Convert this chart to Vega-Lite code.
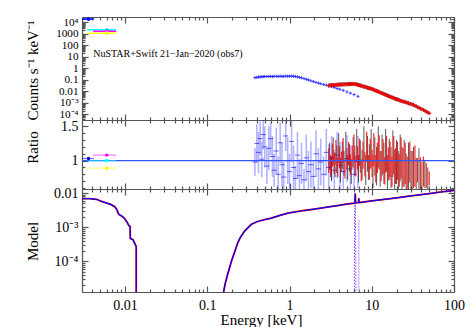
{
"$schema": "https://vega.github.io/schema/vega-lite/v6.json",
"background": "white",
"autosize": {"type": "pad"},
"padding": {"left": 24, "top": 16, "right": 0, "bottom": 0},
"config": {
  "font": "Liberation Serif",
  "view": {"stroke": null},
  "axis": {"labelFont": "Liberation Serif", "labelFontSize": 14, "labelColor": "black", "titleFont": "Liberation Serif", "titleFontSize": 15, "titleFontWeight": "normal", "titleColor": "black", "domainColor": "#555555", "tickColor": "#555555", "domainWidth": 1.2, "tickWidth": 1.2, "grid": false}
},
"datasets": {
  "ax": [{"E": 1, "c": 1, "r": 1, "m": 0.001}],
  "uv": [
    {"f": "b", "E": 0.0036, "Elo": 0.003, "Ehi": 0.0042, "c": 20000, "r": 1.03},
    {"f": "c", "E": 0.006, "Elo": 0.00347, "Ehi": 0.0078, "c": 2300, "r": 1.0},
    {"f": "m", "E": 0.006, "Elo": 0.0041, "Ehi": 0.0078, "c": 1700, "r": 1.08},
    {"f": "y", "E": 0.006, "Elo": 0.0035, "Ehi": 0.0078, "c": 1150, "r": 0.89}
  ],
  "xrt": [
    {"E": 0.38, "c": 0.150, "r": 0.98, "e": 0.20},
    {"E": 0.40, "c": 0.160, "r": 1.25, "e": 0.28},
    {"E": 0.42, "c": 0.170, "r": 1.12, "e": 0.30},
    {"E": 0.44, "c": 0.175, "r": 1.32, "e": 0.25},
    {"E": 0.46, "c": 0.180, "r": 1.02, "e": 0.26},
    {"E": 0.48, "c": 0.185, "r": 1.38, "e": 0.22},
    {"E": 0.50, "c": 0.188, "r": 1.20, "e": 0.30},
    {"E": 0.53, "c": 0.190, "r": 0.92, "e": 0.26},
    {"E": 0.56, "c": 0.192, "r": 1.18, "e": 0.32},
    {"E": 0.59, "c": 0.195, "r": 1.32, "e": 0.24},
    {"E": 0.62, "c": 0.190, "r": 1.06, "e": 0.30},
    {"E": 0.65, "c": 0.196, "r": 0.86, "e": 0.24},
    {"E": 0.69, "c": 0.198, "r": 1.14, "e": 0.34},
    {"E": 0.73, "c": 0.192, "r": 0.80, "e": 0.26},
    {"E": 0.77, "c": 0.200, "r": 1.26, "e": 0.30},
    {"E": 0.81, "c": 0.196, "r": 0.94, "e": 0.32},
    {"E": 0.85, "c": 0.194, "r": 0.76, "e": 0.22},
    {"E": 0.90, "c": 0.205, "r": 1.36, "e": 0.22},
    {"E": 0.95, "c": 0.200, "r": 1.00, "e": 0.34},
    {"E": 1.00, "c": 0.204, "r": 0.84, "e": 0.26},
    {"E": 1.06, "c": 0.206, "r": 1.28, "e": 0.30},
    {"E": 1.12, "c": 0.198, "r": 0.90, "e": 0.32},
    {"E": 1.18, "c": 0.190, "r": 0.74, "e": 0.18},
    {"E": 1.25, "c": 0.175, "r": 1.08, "e": 0.34},
    {"E": 1.32, "c": 0.160, "r": 0.78, "e": 0.24},
    {"E": 1.40, "c": 0.145, "r": 0.96, "e": 0.30},
    {"E": 1.50, "c": 0.125, "r": 0.72, "e": 0.16},
    {"E": 1.60, "c": 0.108, "r": 1.04, "e": 0.34},
    {"E": 1.70, "c": 0.095, "r": 0.84, "e": 0.30},
    {"E": 1.82, "c": 0.080, "r": 0.94, "e": 0.34},
    {"E": 1.95, "c": 0.068, "r": 0.77, "e": 0.22},
    {"E": 2.10, "c": 0.058, "r": 1.10, "e": 0.34},
    {"E": 2.25, "c": 0.050, "r": 0.88, "e": 0.30},
    {"E": 2.40, "c": 0.044, "r": 0.98, "e": 0.34},
    {"E": 2.60, "c": 0.038, "r": 0.80, "e": 0.26},
    {"E": 2.80, "c": 0.033, "r": 1.12, "e": 0.34},
    {"E": 3.00, "c": 0.029, "r": 0.90, "e": 0.34},
    {"E": 3.25, "c": 0.025, "r": 1.04, "e": 0.32},
    {"E": 3.50, "c": 0.021, "r": 0.86, "e": 0.30},
    {"E": 3.80, "c": 0.017, "r": 1.08, "e": 0.34},
    {"E": 4.10, "c": 0.0145, "r": 0.93, "e": 0.34},
    {"E": 4.50, "c": 0.0115, "r": 0.84, "e": 0.32},
    {"E": 5.00, "c": 0.0085, "r": 1.03, "e": 0.34},
    {"E": 5.50, "c": 0.0066, "r": 0.88, "e": 0.34},
    {"E": 6.10, "c": 0.0049, "r": 0.80, "e": 0.32},
    {"E": 6.80, "c": 0.0035, "r": 0.98, "e": 0.38}
  ],
  "fpma": [
    {"E": 3.00, "c": 0.031, "r": 1.00, "e": 0.18},
    {"E": 3.16, "c": 0.032, "r": 0.92, "e": 0.16},
    {"E": 3.32, "c": 0.033, "r": 1.08, "e": 0.17},
    {"E": 3.49, "c": 0.034, "r": 0.96, "e": 0.15},
    {"E": 3.67, "c": 0.035, "r": 1.12, "e": 0.18},
    {"E": 3.86, "c": 0.036, "r": 0.90, "e": 0.14},
    {"E": 4.06, "c": 0.037, "r": 1.05, "e": 0.16},
    {"E": 4.27, "c": 0.038, "r": 0.98, "e": 0.15},
    {"E": 4.49, "c": 0.038, "r": 1.15, "e": 0.18},
    {"E": 4.72, "c": 0.039, "r": 0.88, "e": 0.14},
    {"E": 4.97, "c": 0.040, "r": 1.02, "e": 0.16},
    {"E": 5.23, "c": 0.040, "r": 1.10, "e": 0.17},
    {"E": 5.50, "c": 0.041, "r": 0.94, "e": 0.15},
    {"E": 5.78, "c": 0.041, "r": 1.06, "e": 0.16},
    {"E": 6.08, "c": 0.041, "r": 1.18, "e": 0.20},
    {"E": 6.40, "c": 0.040, "r": 0.92, "e": 0.15},
    {"E": 6.73, "c": 0.036, "r": 1.04, "e": 0.17},
    {"E": 7.08, "c": 0.032, "r": 1.12, "e": 0.20},
    {"E": 7.45, "c": 0.029, "r": 0.86, "e": 0.16},
    {"E": 7.83, "c": 0.026, "r": 1.08, "e": 0.20},
    {"E": 8.24, "c": 0.024, "r": 0.95, "e": 0.18},
    {"E": 8.67, "c": 0.021, "r": 1.20, "e": 0.22},
    {"E": 9.12, "c": 0.019, "r": 0.90, "e": 0.18},
    {"E": 9.59, "c": 0.017, "r": 1.10, "e": 0.22},
    {"E": 10.1, "c": 0.0150, "r": 0.96, "e": 0.20},
    {"E": 10.6, "c": 0.0130, "r": 1.16, "e": 0.24},
    {"E": 11.2, "c": 0.0110, "r": 0.88, "e": 0.20},
    {"E": 11.7, "c": 0.0096, "r": 1.04, "e": 0.22},
    {"E": 12.3, "c": 0.0083, "r": 1.12, "e": 0.25},
    {"E": 13.0, "c": 0.0070, "r": 0.92, "e": 0.22},
    {"E": 13.7, "c": 0.0060, "r": 1.06, "e": 0.25},
    {"E": 14.4, "c": 0.0051, "r": 0.85, "e": 0.20},
    {"E": 15.1, "c": 0.0044, "r": 1.10, "e": 0.26},
    {"E": 15.9, "c": 0.0038, "r": 0.95, "e": 0.24},
    {"E": 16.7, "c": 0.0032, "r": 1.02, "e": 0.26},
    {"E": 17.6, "c": 0.0028, "r": 0.84, "e": 0.22},
    {"E": 18.5, "c": 0.0024, "r": 1.08, "e": 0.28},
    {"E": 19.5, "c": 0.0021, "r": 0.92, "e": 0.26},
    {"E": 20.5, "c": 0.0019, "r": 1.00, "e": 0.28},
    {"E": 21.6, "c": 0.0016, "r": 0.86, "e": 0.24},
    {"E": 22.7, "c": 0.0014, "r": 1.04, "e": 0.30},
    {"E": 24.0, "c": 0.00125, "r": 0.90, "e": 0.28},
    {"E": 25.5, "c": 0.00110, "r": 0.96, "e": 0.30},
    {"E": 27.0, "c": 0.00095, "r": 0.82, "e": 0.24},
    {"E": 29.0, "c": 0.00080, "r": 0.98, "e": 0.30},
    {"E": 31.0, "c": 0.00068, "r": 0.86, "e": 0.28},
    {"E": 33.5, "c": 0.00052, "r": 0.92, "e": 0.30},
    {"E": 36.0, "c": 0.00040, "r": 0.86, "e": 0.18},
    {"E": 39.0, "c": 0.00030, "r": 0.80, "e": 0.25},
    {"E": 42.5, "c": 0.00022, "r": 0.84, "e": 0.22},
    {"E": 46.0, "c": 0.00016, "r": 0.78, "e": 0.18},
    {"E": 50.0, "c": 0.000115, "r": 0.74, "e": 0.10}
  ],
  "fpmb": [
    {"E": 3.08, "c": 0.032, "r": 1.06, "e": 0.20},
    {"E": 3.24, "c": 0.033, "r": 0.88, "e": 0.18},
    {"E": 3.40, "c": 0.034, "r": 1.14, "e": 0.20},
    {"E": 3.58, "c": 0.035, "r": 0.94, "e": 0.18},
    {"E": 3.76, "c": 0.036, "r": 1.02, "e": 0.20},
    {"E": 3.96, "c": 0.037, "r": 1.18, "e": 0.22},
    {"E": 4.16, "c": 0.038, "r": 0.86, "e": 0.18},
    {"E": 4.38, "c": 0.039, "r": 1.08, "e": 0.20},
    {"E": 4.60, "c": 0.040, "r": 0.96, "e": 0.18},
    {"E": 4.84, "c": 0.040, "r": 1.20, "e": 0.22},
    {"E": 5.10, "c": 0.041, "r": 0.90, "e": 0.18},
    {"E": 5.36, "c": 0.042, "r": 1.04, "e": 0.20},
    {"E": 5.64, "c": 0.042, "r": 0.84, "e": 0.18},
    {"E": 5.93, "c": 0.042, "r": 1.12, "e": 0.22},
    {"E": 6.24, "c": 0.042, "r": 1.00, "e": 0.22},
    {"E": 6.56, "c": 0.039, "r": 1.22, "e": 0.24},
    {"E": 6.90, "c": 0.035, "r": 0.88, "e": 0.20},
    {"E": 7.26, "c": 0.031, "r": 1.06, "e": 0.24},
    {"E": 7.64, "c": 0.028, "r": 0.94, "e": 0.22},
    {"E": 8.03, "c": 0.025, "r": 1.24, "e": 0.26},
    {"E": 8.45, "c": 0.023, "r": 0.86, "e": 0.22},
    {"E": 8.89, "c": 0.020, "r": 1.10, "e": 0.26},
    {"E": 9.35, "c": 0.018, "r": 0.98, "e": 0.26},
    {"E": 9.84, "c": 0.016, "r": 1.18, "e": 0.28},
    {"E": 10.35, "c": 0.0142, "r": 0.84, "e": 0.24},
    {"E": 10.9, "c": 0.0122, "r": 1.06, "e": 0.28},
    {"E": 11.45, "c": 0.0105, "r": 0.92, "e": 0.28},
    {"E": 12.0, "c": 0.0091, "r": 1.20, "e": 0.30},
    {"E": 12.65, "c": 0.0078, "r": 0.88, "e": 0.26},
    {"E": 13.35, "c": 0.0066, "r": 1.08, "e": 0.30},
    {"E": 14.05, "c": 0.0057, "r": 0.96, "e": 0.30},
    {"E": 14.75, "c": 0.0049, "r": 1.14, "e": 0.32},
    {"E": 15.5, "c": 0.0042, "r": 0.82, "e": 0.26},
    {"E": 16.3, "c": 0.0036, "r": 1.02, "e": 0.30},
    {"E": 17.15, "c": 0.0031, "r": 0.90, "e": 0.30},
    {"E": 18.05, "c": 0.0027, "r": 1.10, "e": 0.34},
    {"E": 19.0, "c": 0.0023, "r": 0.86, "e": 0.30},
    {"E": 20.0, "c": 0.0020, "r": 0.98, "e": 0.32},
    {"E": 21.05, "c": 0.0018, "r": 0.84, "e": 0.30},
    {"E": 22.15, "c": 0.0015, "r": 1.04, "e": 0.34},
    {"E": 23.35, "c": 0.0013, "r": 0.88, "e": 0.32},
    {"E": 24.75, "c": 0.00118, "r": 0.96, "e": 0.34},
    {"E": 26.2, "c": 0.00102, "r": 0.80, "e": 0.30},
    {"E": 28.0, "c": 0.00088, "r": 0.92, "e": 0.34},
    {"E": 30.0, "c": 0.00075, "r": 0.84, "e": 0.30},
    {"E": 32.2, "c": 0.00062, "r": 0.90, "e": 0.30},
    {"E": 34.7, "c": 0.00048, "r": 0.78, "e": 0.26},
    {"E": 37.5, "c": 0.00036, "r": 0.88, "e": 0.30},
    {"E": 40.7, "c": 0.00027, "r": 0.76, "e": 0.22},
    {"E": 44.2, "c": 0.00020, "r": 0.80, "e": 0.20},
    {"E": 48.0, "c": 0.00014, "r": 0.74, "e": 0.16}
  ],
  "model": [
    {"part": "a", "E": 0.003, "m": 0.0069},
    {"part": "a", "E": 0.0037, "m": 0.0069},
    {"part": "a", "E": 0.0045, "m": 0.0066},
    {"part": "a", "E": 0.0051, "m": 0.0058},
    {"part": "a", "E": 0.006, "m": 0.0051},
    {"part": "a", "E": 0.0068, "m": 0.0046},
    {"part": "a", "E": 0.0075, "m": 0.0040},
    {"part": "a", "E": 0.0079, "m": 0.0034},
    {"part": "a", "E": 0.0084, "m": 0.0024},
    {"part": "a", "E": 0.0092, "m": 0.0021},
    {"part": "a", "E": 0.0099, "m": 0.0018},
    {"part": "a", "E": 0.0106, "m": 0.0014},
    {"part": "a", "E": 0.0112, "m": 0.0011},
    {"part": "a", "E": 0.01155, "m": 0.00105},
    {"part": "a", "E": 0.0116, "m": 0.00047},
    {"part": "a", "E": 0.0125, "m": 0.00043},
    {"part": "a", "E": 0.0137, "m": 0.00027},
    {"part": "a", "E": 0.01371, "m": 0.0000001},
    {"part": "b", "E": 0.15, "m": 0.000005},
    {"part": "b", "E": 0.158, "m": 0.0000127},
    {"part": "b", "E": 0.165, "m": 0.000022},
    {"part": "b", "E": 0.175, "m": 0.000038},
    {"part": "b", "E": 0.185, "m": 0.00006},
    {"part": "b", "E": 0.195, "m": 0.000095},
    {"part": "b", "E": 0.21, "m": 0.00016},
    {"part": "b", "E": 0.22, "m": 0.00022},
    {"part": "b", "E": 0.235, "m": 0.00035},
    {"part": "b", "E": 0.251, "m": 0.00049},
    {"part": "b", "E": 0.283, "m": 0.00076},
    {"part": "b", "E": 0.341, "m": 0.0012},
    {"part": "b", "E": 0.4, "m": 0.00145},
    {"part": "b", "E": 0.495, "m": 0.00166},
    {"part": "b", "E": 0.6, "m": 0.00185},
    {"part": "b", "E": 0.75, "m": 0.0022},
    {"part": "b", "E": 0.953, "m": 0.0026},
    {"part": "b", "E": 1.5, "m": 0.0031},
    {"part": "b", "E": 2.0, "m": 0.0034},
    {"part": "b", "E": 3.0, "m": 0.00395},
    {"part": "b", "E": 4.0, "m": 0.0044},
    {"part": "b", "E": 5.0, "m": 0.0048},
    {"part": "b", "E": 6.2, "m": 0.0051},
    {"part": "b", "E": 6.25, "m": 0.0052},
    {"part": "b", "E": 6.3, "m": 0.0098},
    {"part": "b", "E": 6.36, "m": 0.0052},
    {"part": "b", "E": 6.9, "m": 0.0053},
    {"part": "b", "E": 6.95, "m": 0.0070},
    {"part": "b", "E": 7.0, "m": 0.0053},
    {"part": "b", "E": 8.0, "m": 0.0055},
    {"part": "b", "E": 10, "m": 0.0059},
    {"part": "b", "E": 15, "m": 0.0067},
    {"part": "b", "E": 20, "m": 0.0073},
    {"part": "b", "E": 30, "m": 0.0083},
    {"part": "b", "E": 50, "m": 0.0097},
    {"part": "b", "E": 70, "m": 0.0108},
    {"part": "b", "E": 100, "m": 0.0120}
  ],
  "gau1": [
    {"E": 6.08, "m": 0.00000001},
    {"E": 6.15, "m": 0.0001},
    {"E": 6.2, "m": 0.002},
    {"E": 6.27, "m": 0.0047},
    {"E": 6.34, "m": 0.002},
    {"E": 6.4, "m": 0.0001},
    {"E": 6.47, "m": 0.00000001}
  ],
  "gau2": [
    {"E": 6.9, "m": 0.00000001},
    {"E": 6.94, "m": 0.0001},
    {"E": 6.97, "m": 0.0017},
    {"E": 7.0, "m": 0.0001},
    {"E": 7.04, "m": 0.00000001}
  ]
},
"vconcat": [
  {
    "width": 372, "height": 103,
    "resolve": {"axis": {"x": "independent", "y": "independent"}},
    "layer": [
      {"data": {"name": "ax"}, "mark": {"type": "point", "opacity": 0},
       "encoding": {
         "x": {"field": "E", "type": "quantitative", "scale": {"type": "log", "domain": [0.003, 100], "nice": false}, "axis": {"orient": "bottom", "values": [0.01, 0.1, 1, 10, 100], "labels": false, "tickSize": -6, "title": null}},
         "y": {"field": "c", "type": "quantitative", "scale": {"type": "log", "domain": [3e-5, 30000], "nice": false}, "axis": {"orient": "left", "values": [0.0001, 0.001, 0.01, 0.1, 1, 10, 100, 1000, 10000], "tickSize": -6, "labelPadding": 10, "labelFontSize": 11.2, "labelOverlap": false, "format": "~g", "labelExpr": "datum.value == 10000 ? '10⁴' : datum.value == 0.001 ? '10⁻³' : datum.value == 0.0001 ? '10⁻⁴' : datum.label", "title": "Counts s⁻¹ keV⁻¹", "titleX": -45, "titleY": 53, "titleBaseline": "alphabetic"}}
       }},
      {"data": {"name": "ax"}, "mark": {"type": "point", "opacity": 0},
       "encoding": {
         "x": {"field": "E", "type": "quantitative", "scale": {"type": "log", "domain": [0.003, 100], "nice": false}, "axis": {"orient": "bottom", "values": [0.004,0.005,0.006,0.007,0.008,0.009,0.02,0.03,0.04,0.05,0.06,0.07,0.08,0.09,0.2,0.3,0.4,0.5,0.6,0.7,0.8,0.9,2,3,4,5,6,7,8,9,20,30,40,50,60,70,80,90], "labels": false, "domain": false, "tickSize": -3, "title": null}},
         "y": {"field": "c", "type": "quantitative", "scale": {"type": "log", "domain": [3e-5, 30000], "nice": false}, "axis": {"orient": "left", "values": [4e-5,5e-5,6e-5,7e-5,8e-5,9e-5,2e-4,3e-4,4e-4,5e-4,6e-4,7e-4,8e-4,9e-4,0.002,0.003,0.004,0.005,0.006,0.007,0.008,0.009,0.02,0.03,0.04,0.05,0.06,0.07,0.08,0.09,0.2,0.3,0.4,0.5,0.6,0.7,0.8,0.9,2,3,4,5,6,7,8,9,20,30,40,50,60,70,80,90,200,300,400,500,600,700,800,900,2000,3000,4000,5000,6000,7000,8000,9000,20000], "labels": false, "domain": false, "tickSize": -3, "title": null}}
       }},
      {"data": {"name": "ax"}, "mark": {"type": "point", "opacity": 0},
       "encoding": {
         "x": {"field": "E", "type": "quantitative", "scale": {"type": "log", "domain": [0.003, 100], "nice": false}, "axis": {"orient": "top", "values": [0.01, 0.1, 1, 10, 100], "labels": false, "tickSize": -6, "title": null}},
         "y": {"field": "c", "type": "quantitative", "scale": {"type": "log", "domain": [3e-5, 30000], "nice": false}, "axis": {"orient": "right", "values": [0.0001, 0.001, 0.01, 0.1, 1, 10, 100, 1000, 10000], "labels": false, "tickSize": -6, "title": null}}
       }},
      {"data": {"name": "ax"}, "mark": {"type": "point", "opacity": 0},
       "encoding": {
         "x": {"field": "E", "type": "quantitative", "scale": {"type": "log", "domain": [0.003, 100], "nice": false}, "axis": {"orient": "top", "values": [0.004,0.005,0.006,0.007,0.008,0.009,0.02,0.03,0.04,0.05,0.06,0.07,0.08,0.09,0.2,0.3,0.4,0.5,0.6,0.7,0.8,0.9,2,3,4,5,6,7,8,9,20,30,40,50,60,70,80,90], "labels": false, "domain": false, "tickSize": -3, "title": null}},
         "y": {"field": "c", "type": "quantitative", "scale": {"type": "log", "domain": [3e-5, 30000], "nice": false}, "axis": {"orient": "right", "values": [4e-5,5e-5,6e-5,7e-5,8e-5,9e-5,2e-4,3e-4,4e-4,5e-4,6e-4,7e-4,8e-4,9e-4,0.002,0.003,0.004,0.005,0.006,0.007,0.008,0.009,0.02,0.03,0.04,0.05,0.06,0.07,0.08,0.09,0.2,0.3,0.4,0.5,0.6,0.7,0.8,0.9,2,3,4,5,6,7,8,9,20,30,40,50,60,70,80,90,200,300,400,500,600,700,800,900,2000,3000,4000,5000,6000,7000,8000,9000,20000], "labels": false, "domain": false, "tickSize": -3, "title": null}}
       }},
      {"data": {"name": "uv"}, "mark": {"type": "rule", "strokeWidth": 1.5},
       "encoding": {
         "x": {"field": "Elo", "type": "quantitative", "scale": {"type": "log", "domain": [0.003, 100], "nice": false}, "axis": null},
         "x2": {"field": "Ehi"},
         "y": {"field": "c", "type": "quantitative", "scale": {"type": "log", "domain": [3e-5, 30000], "nice": false}, "axis": null},
         "color": {"field": "f", "type": "nominal", "scale": {"domain": ["b", "c", "m", "y"], "range": ["#0000ff", "#00ffff", "#ff00ff", "#ffff00"]}, "legend": null}
       }},
      {"data": {"name": "uv"}, "mark": {"type": "point", "filled": true, "size": 14, "opacity": 1},
       "encoding": {
         "x": {"field": "E", "type": "quantitative", "scale": {"type": "log", "domain": [0.003, 100], "nice": false}, "axis": null},
         "y": {"field": "c", "type": "quantitative", "scale": {"type": "log", "domain": [3e-5, 30000], "nice": false}, "axis": null},
         "color": {"field": "f", "type": "nominal", "scale": {"domain": ["b", "c", "m", "y"], "range": ["#0000ff", "#00ffff", "#ff00ff", "#ffff00"]}, "legend": null}
       }},
      {"data": {"name": "xrt"}, "mark": {"type": "point", "shape": "M-1,0L1,0M0,-1L0,1", "filled": false, "size": 10, "strokeWidth": 0.9, "color": "#0000ff", "opacity": 0.8},
       "encoding": {
         "x": {"field": "E", "type": "quantitative", "scale": {"type": "log", "domain": [0.003, 100], "nice": false}, "axis": null},
         "y": {"field": "c", "type": "quantitative", "scale": {"type": "log", "domain": [3e-5, 30000], "nice": false}, "axis": null}
       }},
      {"data": {"name": "fpmb"}, "mark": {"type": "point", "shape": "M-1,0L1,0M0,-1L0,1", "filled": false, "size": 16, "strokeWidth": 1, "color": "#000000", "opacity": 0.8},
       "encoding": {
         "x": {"field": "E", "type": "quantitative", "scale": {"type": "log", "domain": [0.003, 100], "nice": false}, "axis": null},
         "y": {"field": "c", "type": "quantitative", "scale": {"type": "log", "domain": [3e-5, 30000], "nice": false}, "axis": null}
       }},
      {"data": {"name": "fpma"}, "mark": {"type": "point", "shape": "M-1,0L1,0M0,-1L0,1", "filled": false, "size": 16, "strokeWidth": 1.2, "color": "#ff0000", "opacity": 0.95},
       "encoding": {
         "x": {"field": "E", "type": "quantitative", "scale": {"type": "log", "domain": [0.003, 100], "nice": false}, "axis": null},
         "y": {"field": "c", "type": "quantitative", "scale": {"type": "log", "domain": [3e-5, 30000], "nice": false}, "axis": null}
       }},
      {"data": {"name": "ax"}, "mark": {"type": "text", "align": "left", "baseline": "middle", "font": "Liberation Serif", "fontSize": 10, "color": "black"},
       "encoding": {
         "x": {"datum": 0.0041, "type": "quantitative", "scale": {"type": "log", "domain": [0.003, 100], "nice": false}, "axis": null},
         "y": {"datum": 18.7, "type": "quantitative", "scale": {"type": "log", "domain": [3e-5, 30000], "nice": false}, "axis": null},
         "text": {"value": "NuSTAR+Swift 21−Jan−2020 (obs7)"}
       }}
    ]
  },
  {
    "width": 372, "height": 69,
    "resolve": {"axis": {"x": "independent", "y": "independent"}},
    "layer": [
      {"data": {"name": "ax"}, "mark": {"type": "point", "opacity": 0},
       "encoding": {
         "x": {"field": "E", "type": "quantitative", "scale": {"type": "log", "domain": [0.003, 100], "nice": false}, "axis": {"orient": "bottom", "values": [0.01, 0.1, 1, 10, 100], "labels": false, "tickSize": -6, "title": null}},
         "y": {"field": "r", "type": "quantitative", "scale": {"type": "linear", "domain": [0.586, 1.592], "nice": false, "zero": false, "clamp": true}, "axis": {"orient": "left", "values": [1, 1.5], "tickSize": -6, "labelPadding": 10, "labelOverlap": false, "format": "~g", "title": "Ratio", "titleX": -45, "titleY": 27, "titleBaseline": "alphabetic"}}
       }},
      {"data": {"name": "ax"}, "mark": {"type": "point", "opacity": 0},
       "encoding": {
         "x": {"field": "E", "type": "quantitative", "scale": {"type": "log", "domain": [0.003, 100], "nice": false}, "axis": {"orient": "bottom", "values": [0.004,0.005,0.006,0.007,0.008,0.009,0.02,0.03,0.04,0.05,0.06,0.07,0.08,0.09,0.2,0.3,0.4,0.5,0.6,0.7,0.8,0.9,2,3,4,5,6,7,8,9,20,30,40,50,60,70,80,90], "labels": false, "domain": false, "tickSize": -3, "title": null}},
         "y": {"field": "r", "type": "quantitative", "scale": {"type": "linear", "domain": [0.586, 1.592], "nice": false, "zero": false, "clamp": true}, "axis": {"orient": "left", "values": [0.6, 0.7, 0.8, 0.9, 1.1, 1.2, 1.3, 1.4], "labels": false, "domain": false, "tickSize": -3, "title": null}}
       }},
      {"data": {"name": "ax"}, "mark": {"type": "point", "opacity": 0},
       "encoding": {
         "x": {"field": "E", "type": "quantitative", "scale": {"type": "log", "domain": [0.003, 100], "nice": false}, "axis": {"orient": "top", "values": [0.01, 0.1, 1, 10, 100], "labels": false, "tickSize": -6, "title": null}},
         "y": {"field": "r", "type": "quantitative", "scale": {"type": "linear", "domain": [0.586, 1.592], "nice": false, "zero": false, "clamp": true}, "axis": {"orient": "right", "values": [1, 1.5], "labels": false, "tickSize": -6, "title": null}}
       }},
      {"data": {"name": "ax"}, "mark": {"type": "point", "opacity": 0},
       "encoding": {
         "x": {"field": "E", "type": "quantitative", "scale": {"type": "log", "domain": [0.003, 100], "nice": false}, "axis": {"orient": "top", "values": [0.004,0.005,0.006,0.007,0.008,0.009,0.02,0.03,0.04,0.05,0.06,0.07,0.08,0.09,0.2,0.3,0.4,0.5,0.6,0.7,0.8,0.9,2,3,4,5,6,7,8,9,20,30,40,50,60,70,80,90], "labels": false, "domain": false, "tickSize": -3, "title": null}},
         "y": {"field": "r", "type": "quantitative", "scale": {"type": "linear", "domain": [0.586, 1.592], "nice": false, "zero": false, "clamp": true}, "axis": {"orient": "right", "values": [0.6, 0.7, 0.8, 0.9, 1.1, 1.2, 1.3, 1.4], "labels": false, "domain": false, "tickSize": -3, "title": null}}
       }},
      {"data": {"name": "xrt"}, "mark": {"type": "errorbar", "color": "#0000ff", "opacity": 0.3, "thickness": 1.6},
       "encoding": {
         "x": {"field": "E", "type": "quantitative", "scale": {"type": "log", "domain": [0.003, 100], "nice": false}, "axis": null},
         "y": {"field": "r", "type": "quantitative", "scale": {"type": "linear", "domain": [0.586, 1.592], "nice": false, "zero": false, "clamp": true}, "axis": null},
         "yError": {"field": "e"}
       }},
      {"data": {"name": "xrt"}, "mark": {"type": "tick", "orient": "horizontal", "color": "#0000ff", "opacity": 0.6, "size": 5, "thickness": 1},
       "encoding": {
         "x": {"field": "E", "type": "quantitative", "scale": {"type": "log", "domain": [0.003, 100], "nice": false}, "axis": null},
         "y": {"field": "r", "type": "quantitative", "scale": {"type": "linear", "domain": [0.586, 1.592], "nice": false, "zero": false, "clamp": true}, "axis": null}
       }},
      {"data": {"name": "fpmb"}, "mark": {"type": "errorbar", "color": "#000000", "opacity": 0.65, "thickness": 1},
       "encoding": {
         "x": {"field": "E", "type": "quantitative", "scale": {"type": "log", "domain": [0.003, 100], "nice": false}, "axis": null},
         "y": {"field": "r", "type": "quantitative", "scale": {"type": "linear", "domain": [0.586, 1.592], "nice": false, "zero": false, "clamp": true}, "axis": null},
         "yError": {"field": "e"}
       }},
      {"data": {"name": "fpma"}, "mark": {"type": "errorbar", "color": "#ff0000", "opacity": 0.85, "thickness": 1.2},
       "encoding": {
         "x": {"field": "E", "type": "quantitative", "scale": {"type": "log", "domain": [0.003, 100], "nice": false}, "axis": null},
         "y": {"field": "r", "type": "quantitative", "scale": {"type": "linear", "domain": [0.586, 1.592], "nice": false, "zero": false, "clamp": true}, "axis": null},
         "yError": {"field": "e"}
       }},
      {"data": {"name": "ax"}, "mark": {"type": "rule", "color": "#3355ff", "strokeWidth": 1.2},
       "encoding": {
         "y": {"datum": 1, "type": "quantitative", "scale": {"type": "linear", "domain": [0.586, 1.592], "nice": false, "zero": false, "clamp": true}, "axis": null}
       }},
      {"data": {"name": "uv"}, "mark": {"type": "rule", "strokeWidth": 1.2, "opacity": 0.55},
       "encoding": {
         "x": {"field": "Elo", "type": "quantitative", "scale": {"type": "log", "domain": [0.003, 100], "nice": false}, "axis": null},
         "x2": {"field": "Ehi"},
         "y": {"field": "r", "type": "quantitative", "scale": {"type": "linear", "domain": [0.586, 1.592], "nice": false, "zero": false, "clamp": true}, "axis": null},
         "color": {"field": "f", "type": "nominal", "scale": {"domain": ["b", "c", "m", "y"], "range": ["#0000ff", "#00ffff", "#ff00ff", "#ffff00"]}, "legend": null}
       }},
      {"data": {"name": "uv"}, "mark": {"type": "point", "filled": true, "size": 12, "opacity": 1},
       "encoding": {
         "x": {"field": "E", "type": "quantitative", "scale": {"type": "log", "domain": [0.003, 100], "nice": false}, "axis": null},
         "y": {"field": "r", "type": "quantitative", "scale": {"type": "linear", "domain": [0.586, 1.592], "nice": false, "zero": false, "clamp": true}, "axis": null},
         "color": {"field": "f", "type": "nominal", "scale": {"domain": ["b", "c", "m", "y"], "range": ["#0000ff", "#00ffff", "#ff00ff", "#ffff00"]}, "legend": null}
       }}
    ]
  },
  {
    "width": 372, "height": 103,
    "resolve": {"axis": {"x": "independent", "y": "independent"}},
    "layer": [
      {"data": {"name": "ax"}, "mark": {"type": "point", "opacity": 0},
       "encoding": {
         "x": {"field": "E", "type": "quantitative", "scale": {"type": "log", "domain": [0.003, 100], "nice": false}, "axis": {"orient": "bottom", "values": [0.01, 0.1, 1, 10, 100], "tickSize": -6, "labelPadding": 12, "labelFlush": false, "labelOverlap": false, "format": "~g", "title": "Energy [keV]", "titleX": 179, "titleY": 32, "titleBaseline": "alphabetic"}},
         "y": {"field": "m", "type": "quantitative", "scale": {"type": "log", "domain": [1.27e-5, 0.0132], "nice": false}, "axis": {"orient": "left", "values": [0.0001, 0.001, 0.01], "tickSize": -6, "labelPadding": 10, "labelOverlap": false, "format": "~g", "labelExpr": "datum.value == 0.001 ? '10⁻³' : datum.value == 0.0001 ? '10⁻⁴' : datum.label", "title": "Model", "titleX": -45, "titleY": 52, "titleBaseline": "alphabetic"}}
       }},
      {"data": {"name": "ax"}, "mark": {"type": "point", "opacity": 0},
       "encoding": {
         "x": {"field": "E", "type": "quantitative", "scale": {"type": "log", "domain": [0.003, 100], "nice": false}, "axis": {"orient": "bottom", "values": [0.004,0.005,0.006,0.007,0.008,0.009,0.02,0.03,0.04,0.05,0.06,0.07,0.08,0.09,0.2,0.3,0.4,0.5,0.6,0.7,0.8,0.9,2,3,4,5,6,7,8,9,20,30,40,50,60,70,80,90], "labels": false, "domain": false, "tickSize": -3, "title": null}},
         "y": {"field": "m", "type": "quantitative", "scale": {"type": "log", "domain": [1.27e-5, 0.0132], "nice": false}, "axis": {"orient": "left", "values": [2e-5,3e-5,4e-5,5e-5,6e-5,7e-5,8e-5,9e-5,2e-4,3e-4,4e-4,5e-4,6e-4,7e-4,8e-4,9e-4,0.002,0.003,0.004,0.005,0.006,0.007,0.008,0.009], "labels": false, "domain": false, "tickSize": -3, "title": null}}
       }},
      {"data": {"name": "ax"}, "mark": {"type": "point", "opacity": 0},
       "encoding": {
         "x": {"field": "E", "type": "quantitative", "scale": {"type": "log", "domain": [0.003, 100], "nice": false}, "axis": {"orient": "top", "values": [0.01, 0.1, 1, 10, 100], "labels": false, "tickSize": -6, "title": null}},
         "y": {"field": "m", "type": "quantitative", "scale": {"type": "log", "domain": [1.27e-5, 0.0132], "nice": false}, "axis": {"orient": "right", "values": [0.0001, 0.001, 0.01], "labels": false, "tickSize": -6, "title": null}}
       }},
      {"data": {"name": "ax"}, "mark": {"type": "point", "opacity": 0},
       "encoding": {
         "x": {"field": "E", "type": "quantitative", "scale": {"type": "log", "domain": [0.003, 100], "nice": false}, "axis": {"orient": "top", "values": [0.004,0.005,0.006,0.007,0.008,0.009,0.02,0.03,0.04,0.05,0.06,0.07,0.08,0.09,0.2,0.3,0.4,0.5,0.6,0.7,0.8,0.9,2,3,4,5,6,7,8,9,20,30,40,50,60,70,80,90], "labels": false, "domain": false, "tickSize": -3, "title": null}},
         "y": {"field": "m", "type": "quantitative", "scale": {"type": "log", "domain": [1.27e-5, 0.0132], "nice": false}, "axis": {"orient": "right", "values": [2e-5,3e-5,4e-5,5e-5,6e-5,7e-5,8e-5,9e-5,2e-4,3e-4,4e-4,5e-4,6e-4,7e-4,8e-4,9e-4,0.002,0.003,0.004,0.005,0.006,0.007,0.008,0.009], "labels": false, "domain": false, "tickSize": -3, "title": null}}
       }},
      {"data": {"name": "gau1"}, "mark": {"type": "line", "strokeDash": [1.5, 1.5], "strokeWidth": 1, "clip": true, "color": "#7a3cff"},
       "encoding": {
         "x": {"field": "E", "type": "quantitative", "scale": {"type": "log", "domain": [0.003, 100], "nice": false}, "axis": null},
         "y": {"field": "m", "type": "quantitative", "scale": {"type": "log", "domain": [1.27e-5, 0.0132], "nice": false}, "axis": null}
       }},
      {"data": {"name": "gau2"}, "mark": {"type": "line", "strokeDash": [1.5, 1.5], "strokeWidth": 1, "clip": true, "color": "#b9a0f0"},
       "encoding": {
         "x": {"field": "E", "type": "quantitative", "scale": {"type": "log", "domain": [0.003, 100], "nice": false}, "axis": null},
         "y": {"field": "m", "type": "quantitative", "scale": {"type": "log", "domain": [1.27e-5, 0.0132], "nice": false}, "axis": null}
       }},
      {"data": {"name": "model"}, "mark": {"type": "line", "color": "#ff0000", "strokeWidth": 1.8, "clip": true},
       "encoding": {
         "x": {"field": "E", "type": "quantitative", "scale": {"type": "log", "domain": [0.003, 100], "nice": false}, "axis": null},
         "y": {"field": "m", "type": "quantitative", "scale": {"type": "log", "domain": [1.27e-5, 0.0132], "nice": false}, "axis": null},
         "detail": {"field": "part"}
       }},
      {"data": {"name": "model"}, "mark": {"type": "line", "color": "#0000ff", "strokeWidth": 1.2, "clip": true},
       "encoding": {
         "x": {"field": "E", "type": "quantitative", "scale": {"type": "log", "domain": [0.003, 100], "nice": false}, "axis": null},
         "y": {"field": "m", "type": "quantitative", "scale": {"type": "log", "domain": [1.27e-5, 0.0132], "nice": false}, "axis": null},
         "detail": {"field": "part"}
       }}
    ]
  }
],
"spacing": 0,
"bounds": "flush"
}
